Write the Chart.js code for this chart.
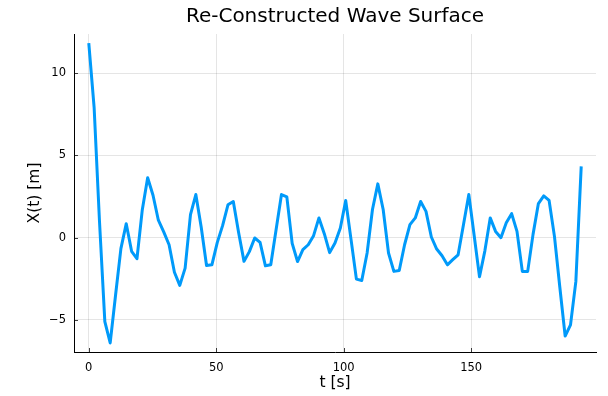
<!DOCTYPE html>
<html>
<head>
<meta charset="utf-8">
<script src="https://cdn.jsdelivr.net/npm/chart.js@4"></script>
<style>
  body { margin: 0; background: #fff; }
</style>
</head>
<body>
<canvas id="waveChart" width="608" height="396"></canvas>
<script>
// sample times [s]
const timeValues = [
    0, 2.1, 4.2, 6.3, 8.4, 10.5, 12.6, 14.7, 16.8, 18.9,
    21, 23.1, 25.2, 27.3, 29.4, 31.5, 33.6, 35.7, 37.8, 39.9,
    42, 44.1, 46.2, 48.3, 50.4, 52.5, 54.6, 56.7, 58.8, 60.9,
    63, 65.1, 67.2, 69.3, 71.4, 73.5, 75.6, 77.7, 79.8, 81.9,
    84, 86.1, 88.2, 90.3, 92.4, 94.5, 96.6, 98.7, 100.8, 102.9,
    105, 107.1, 109.2, 111.3, 113.4, 115.5, 117.6, 119.7, 121.8, 123.9,
    126, 128.1, 130.2, 132.3, 134.4, 136.5, 138.6, 140.7, 142.8, 144.9,
    147, 149.1, 151.2, 153.3, 155.4, 157.5, 159.6, 161.7, 163.8, 165.9,
    168, 170.1, 172.2, 174.3, 176.4, 178.5, 180.6, 182.7, 184.8, 186.9,
    189, 191.1, 193.2
];

// surface elevation X(t) [m]
const waveValues = [
    11.83, 7.9, 1.0, -5.1, -6.4, -3.5, -0.67, 0.85, -0.83, -1.28,
    1.7, 3.64, 2.58, 1.06, 0.35, -0.43, -2.1, -2.9, -1.85, 1.4,
    2.62, 0.65, -1.69, -1.65, -0.3, 0.73, 2.0, 2.2, 0.3, -1.44,
    -0.85, -0.02, -0.29, -1.71, -1.65, 0.5, 2.62, 2.48, -0.35, -1.45,
    -0.73, -0.43, 0.12, 1.2, 0.24, -0.91, -0.32, 0.59, 2.26, -0.12,
    -2.52, -2.6, -0.93, 1.71, 3.27, 1.71, -0.93, -2.05, -2.0, -0.43,
    0.79, 1.2, 2.2, 1.6, 0.04, -0.69, -1.1, -1.65, -1.34, -1.04,
    0.79, 2.62, 0.13, -2.38, -0.8, 1.2, 0.38, 0.0, 0.9, 1.46,
    0.38, -2.05, -2.05, 0.2, 2.07, 2.54, 2.26, 0.08, -3.0, -5.98,
    -5.3, -2.66, 4.33
];

const xTicks = [0, 50, 100, 150];
const yTicks = [-5, 0, 5, 10];

const fontFamily = '"DejaVu Sans", sans-serif';

// title centred over the plot area, plus short inward tick marks
const frameExtras = {
    id: 'frameExtras',
    afterDraw(chart) {
        const c = chart.ctx;
        const area = chart.chartArea;
        const xs = chart.scales.x;
        const ys = chart.scales.y;
        c.save();
        c.strokeStyle = 'rgba(0,0,0,0.75)';
        c.lineWidth = 1;
        c.beginPath();
        xTicks.forEach(v => {
            const px = Math.round(xs.getPixelForValue(v)) + 0.5;
            c.moveTo(px, area.bottom);
            c.lineTo(px, area.bottom - 4);
        });
        yTicks.forEach(v => {
            const py = Math.round(ys.getPixelForValue(v)) + 0.5;
            c.moveTo(area.left, py);
            c.lineTo(area.left + 4, py);
        });
        c.stroke();
        c.fillStyle = '#000';
        c.font = '20px ' + fontFamily;
        c.textAlign = 'center';
        c.textBaseline = 'middle';
        c.fillText('Re-Constructed Wave Surface', (area.left + area.right) / 2, 17);
        c.restore();
    }
};

const ctx = document.getElementById('waveChart').getContext('2d');
const waveChart = new Chart(ctx, {
    type: 'line',
    data: {
        labels: timeValues,
        datasets: [{
            label: 'y1',
            data: timeValues.map((t, i) => ({ x: t, y: waveValues[i] })),
            borderColor: '#009afa',
            borderWidth: 3,
            borderJoinStyle: 'round',
            pointRadius: 0,
            tension: 0,
            fill: false,
        }]
    },
    options: {
        responsive: false,
        animation: false,
        layout: {
            padding: { top: 34, right: 12, bottom: 0, left: 22 }
        },
        plugins: {
            legend: { display: false },
            tooltip: { enabled: false },
        },
        scales: {
            x: {
                type: 'linear',
                min: -5.8,
                max: 199.0,
                afterBuildTicks: (scale) => {
                    scale.ticks = xTicks.map(v => ({ value: v }));
                },
                afterFit: (scale) => { scale.height = 44; },
                grid: {
                    color: 'rgba(0,0,0,0.1)',
                    drawTicks: false,
                },
                border: { color: '#000', width: 1 },
                ticks: {
                    color: '#000',
                    padding: 9,
                    font: { family: fontFamily, size: 11.5 },
                },
                title: {
                    display: true,
                    text: 't [s]',
                    color: '#000',
                    font: { family: fontFamily, size: 15.5 },
                    padding: { top: 0, bottom: 4 },
                },
            },
            y: {
                min: -6.95,
                max: 12.38,
                afterBuildTicks: (scale) => {
                    scale.ticks = yTicks.map(v => ({ value: v }));
                },
                afterFit: (scale) => { scale.width = 52; },
                grid: {
                    color: 'rgba(0,0,0,0.1)',
                    drawTicks: false,
                },
                border: { color: '#000', width: 1 },
                ticks: {
                    color: '#000',
                    padding: 8,
                    font: { family: fontFamily, size: 11.5 },
                    callback: (v) => String(v).replace('-', '\u2212'),
                },
                title: {
                    display: true,
                    text: 'X(t) [m]',
                    color: '#000',
                    font: { family: fontFamily, size: 15.5 },
                    padding: { top: 4, bottom: 0 },
                },
            }
        }
    },
    plugins: [frameExtras]
});
</script>
</body>
</html>
